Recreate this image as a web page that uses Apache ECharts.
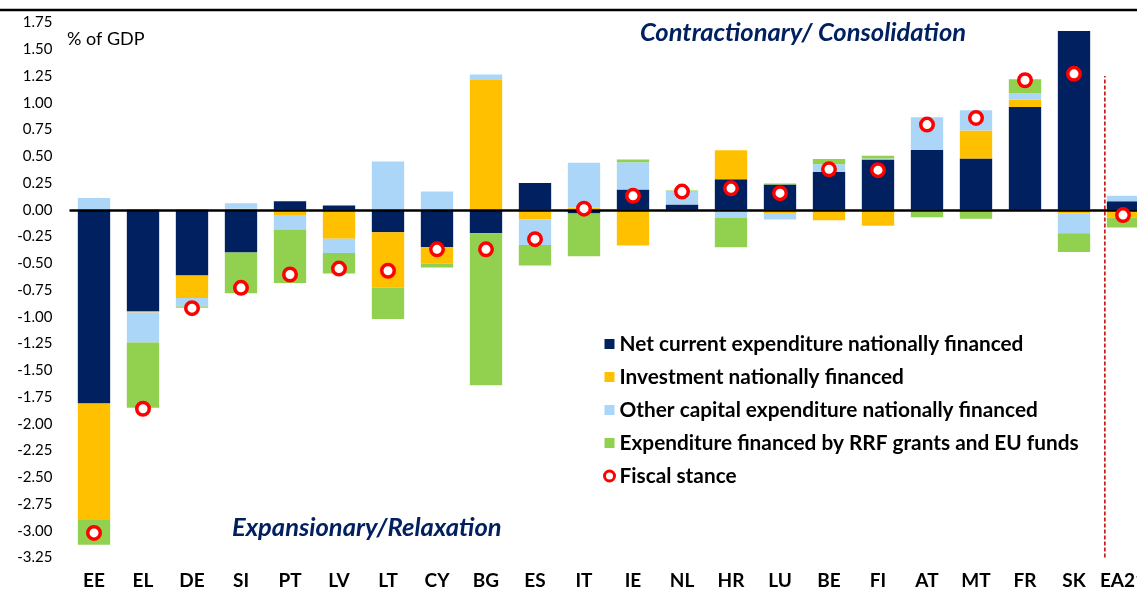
<!DOCTYPE html>
<html><head><meta charset="utf-8">
<script src="https://cdn.jsdelivr.net/npm/echarts@6/dist/echarts.min.js"></script>
<style>html,body{margin:0;padding:0;background:#fff}#c{width:1137px;height:596px}</style>
</head><body><div id="c"></div>
<script>
const categories = ['EE','EL','DE','SI','PT','LV','LT','CY','BG','ES','IT','IE','NL','HR','LU','BE','FI','AT','MT','FR','SK','EA21'];
const netCurrent = [-1.81,-0.95,-0.615,-0.40,0.08,0.04,-0.21,-0.35,-0.22,0.25,-0.035,0.19,0.05,0.285,0.235,0.355,0.47,0.56,0.48,0.96,1.67,0.08];
const investment = [-1.09,-0.01,-0.21,0.01,-0.05,-0.27,-0.52,-0.155,1.22,-0.09,0.02,-0.335,0,0.27,-0.03,-0.098,-0.15,-0.02,0.26,0.07,-0.035,-0.073];
const otherCapital = [0.11,-0.28,-0.08,0.05,-0.135,-0.135,0.45,0.17,0.045,-0.24,0.42,0.255,0.12,-0.077,-0.06,0.07,0.01,0.305,0.19,0.06,-0.185,0.05];
const rrfEu = [-0.23,-0.61,-0.01,-0.38,-0.5,-0.19,-0.29,-0.035,-1.42,-0.19,-0.40,0.025,0.01,-0.273,0.01,0.05,0.025,-0.05,-0.083,0.13,-0.175,-0.093];
const fiscalStance = [-3.02,-1.86,-0.92,-0.73,-0.605,-0.55,-0.57,-0.37,-0.37,-0.275,0.01,0.13,0.17,0.20,0.155,0.378,0.37,0.796,0.858,1.21,1.27,-0.05];
const seriesNames = ['Net current expenditure nationally financed','Investment nationally financed','Other capital expenditure nationally financed','Expenditure financed by RRF grants and EU funds','Fiscal stance'];

const FONT = 'Lato, "Open Sans", sans-serif';
const colors = ['#002060','#FFC000','#ABD6F7','#92D050'];
const barData = [netCurrent, investment, otherCapital, rrfEu];

const chart = echarts.init(document.getElementById('c'), null, {renderer:'canvas'});
const series = barData.map((d,i)=>({
  name: seriesNames[i], type:'bar', stack:'total', stackStrategy:'samesign',
  data: d, barWidth:'66%', itemStyle:{color:colors[i]}, z:2,
  markLine: i===0 ? {silent:true, symbol:'none', label:{show:false},
    lineStyle:{color:'#000', width:2.5, type:'solid'}, data:[{yAxis:0}], z:5} : undefined
}));
series.push({
  name: seriesNames[4], type:'scatter', data: fiscalStance, symbol:'circle', symbolSize:12.5,
  itemStyle:{color:'#fff', borderColor:'#FF0000', borderWidth:3.5, opacity:1}, z:10
});
series.push({
  type:'line', xAxisIndex:1, data:[[21.13,-3.25],[21.13,1.25]], symbol:'none',
  lineStyle:{color:'#C00000', width:1.5, type:[4,2]}, silent:true, z:3
});

chart.setOption({
  animation:false,
  grid:{left:69.5, top:22.5, width:1078, height:535, outerBoundsMode:'none', containLabel:false},
  xAxis:[{
    type:'category', data:categories, position:'bottom',
    axisLine:{show:false, onZero:false}, axisTick:{show:false},
    axisLabel:{fontFamily:FONT, fontSize:19, fontWeight:'bold', color:'#000', margin:14, interval:0}
  },{
    type:'value', min:0, max:22, show:false
  }],
  yAxis:{
    type:'value', min:-3.25, max:1.75, interval:0.25,
    axisLine:{show:false}, axisTick:{show:false}, splitLine:{show:false},
    axisLabel:{fontFamily:FONT, fontSize:15, color:'#000', margin:17, formatter:v=>v.toFixed(2)}
  },
  legend:{
    orient:'vertical', left:598, top:328, itemWidth:10, itemHeight:10, itemGap:11,
    textStyle:{fontFamily:FONT, fontSize:20.8, fontWeight:'bold', color:'#000', lineHeight:22},
    data:[
      {name:seriesNames[0], icon:'rect'},
      {name:seriesNames[1], icon:'rect'},
      {name:seriesNames[2], icon:'rect'},
      {name:seriesNames[3], icon:'rect'},
      {name:seriesNames[4], icon:'circle', itemStyle:{color:'#fff', borderColor:'#FF0000', borderWidth:3}}
    ]
  },
  graphic:[
    {type:'line', shape:{x1:0,y1:10,x2:1137,y2:10}, style:{stroke:'#000', lineWidth:2.5}},
    {type:'text', left:67, top:30, style:{text:'% of GDP', font:'18px '+FONT, fill:'#000'}},
    {type:'text', left:640, top:20, style:{text:'Contractionary/ Consolidation', font:'italic bold 25.5px '+FONT, fill:'#002060'}},
    {type:'text', left:232, top:515, style:{text:'Expansionary/Relaxation', font:'italic bold 25.5px '+FONT, fill:'#002060'}}
  ],
  series: series
});
</script></body></html>
